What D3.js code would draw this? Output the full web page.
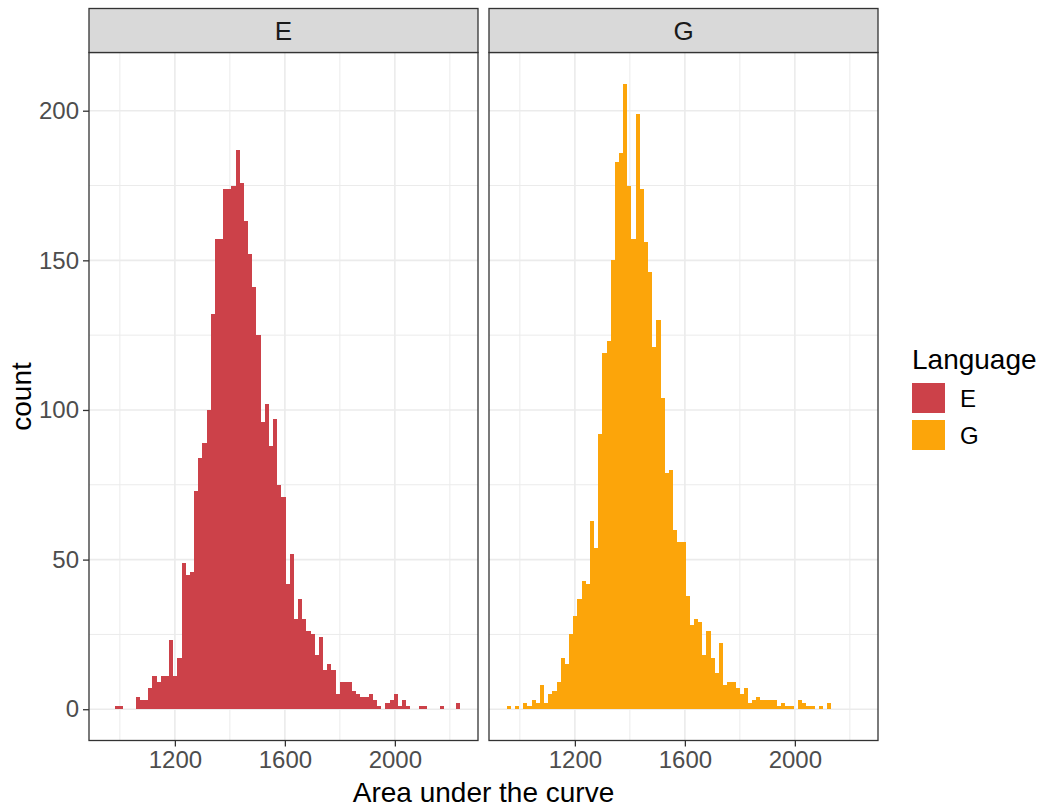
<!DOCTYPE html>
<html><head><meta charset="utf-8">
<script src="https://cdn.jsdelivr.net/npm/d3@7/dist/d3.min.js"></script>
<style>
body{margin:0;background:#fff;}
svg text{font-family:"Liberation Sans", Arial, sans-serif;}
</style></head><body>
<svg id="c" width="1047" height="812"></svg>
<script>
// ---- data ----
const languages = ["E", "G"];
const fillColors = ["#CC4149", "#FCA50A"];
const binStart = 952;
const binWidth = 15.13;
const countsE = [0,0,1,1,0,0,0,4,3,3, 7,11,9,11,11,23,11,17,49,45, 46,73,84,89,100,132,157,157,174,174,
  175,187,176,163,152,141,125,96,102,88, 97,75,71,42,52,30,37,30,26,25, 18,24,13,15,13,5,9,9,9,6,
  5,4,4,5,3,1,0,2,3,5, 1,3,1,0,0,1,1,0,0,0, 1,0,0,0,2];
const countsG = [1,0,1,0,2,1,3,2,8,2, 5,6,9,17,15,25,31,37,43,42, 63,54,92,119,123,150,183,186,209,175,
  157,199,174,156,146,121,130,104,79,80, 60,56,56,38,28,30,29,18,26,17, 12,22,8,9,9,7,5,7,2,3,
  4,3,3,3,3,1,2,1,1,0, 3,2,1,1,0,1,0,2,0,0, 0,0,0,0,0];
const xTicks = [1200, 1600, 2000];
const xMinor = [1000, 1400, 1800, 2200];
const yTicks = [0, 50, 100, 150, 200];
const yMinor = [25, 75, 125, 175];
const xTitle = "Area under the curve";
const yTitle = "count";
const legendTitle = "Language";

// ---- layout ----
const svg = d3.select("#c");
const panelTop = 52.5, panelBottom = 740.5, stripTop = 8.5;
const panelW = 389, panelX = [89, 489];
const nBins = countsE.length;
const binEnd = binStart + nBins * binWidth;
const pad = 0.05 * (binEnd - binStart);
const maxCount = d3.max(countsE.concat(countsG));
const y = d3.scaleLinear().domain([-0.05 * maxCount, 1.05 * maxCount]).range([panelBottom, panelTop]);
const x = d3.scaleLinear().domain([binStart - pad, binEnd + pad]).range([0, panelW]);
const allCounts = [countsE, countsG];

svg.append("rect").attr("width", 1047).attr("height", 812).attr("fill", "#fff");

languages.forEach((lang, p) => {
  const g = svg.append("g").attr("transform", `translate(${panelX[p]},0)`);
  // grid
  g.selectAll(".ym").data(yMinor).join("line")
    .attr("x1", 0).attr("x2", panelW).attr("y1", d => y(d)).attr("y2", d => y(d))
    .attr("stroke", "#EBEBEB").attr("stroke-width", 1);
  g.selectAll(".xm").data(xMinor).join("line")
    .attr("y1", panelTop).attr("y2", panelBottom).attr("x1", d => x(d)).attr("x2", d => x(d))
    .attr("stroke", "#EBEBEB").attr("stroke-width", 1);
  g.selectAll(".yM").data(yTicks).join("line")
    .attr("x1", 0).attr("x2", panelW).attr("y1", d => y(d)).attr("y2", d => y(d))
    .attr("stroke", "#EBEBEB").attr("stroke-width", 1.6);
  g.selectAll(".xM").data(xTicks).join("line")
    .attr("y1", panelTop).attr("y2", panelBottom).attr("x1", d => x(d)).attr("x2", d => x(d))
    .attr("stroke", "#EBEBEB").attr("stroke-width", 1.6);
  // bars
  const bins = allCounts[p].map((c, i) => ({x0: binStart + i * binWidth, x1: binStart + (i + 1) * binWidth, c}));
  g.selectAll(".bar").data(bins.filter(b => b.c > 0)).join("rect")
    .attr("x", d => x(d.x0)).attr("width", d => x(d.x1) - x(d.x0))
    .attr("y", d => y(d.c)).attr("height", d => y(0) - y(d.c))
    .attr("fill", fillColors[p]).attr("shape-rendering", "crispEdges");
  // border
  g.append("rect").attr("x", 0).attr("y", panelTop).attr("width", panelW).attr("height", panelBottom - panelTop)
    .attr("fill", "none").attr("stroke", "#333333").attr("stroke-width", 1.3);
  // strip
  g.append("rect").attr("x", 0).attr("y", stripTop).attr("width", panelW).attr("height", panelTop - stripTop)
    .attr("fill", "#D9D9D9").attr("stroke", "#333333").attr("stroke-width", 1.3);
  g.append("text").attr("x", panelW / 2).attr("y", (stripTop + panelTop) / 2).attr("dy", "0.36em")
    .attr("text-anchor", "middle").attr("font-size", 26).attr("fill", "#1A1A1A").text(lang);
  // x axis
  const xa = g.append("g").attr("transform", `translate(0,${panelBottom})`)
    .call(d3.axisBottom(x).tickValues(xTicks).tickSize(6).tickPadding(4).tickFormat(d3.format("d")));
  xa.select(".domain").remove();
  xa.selectAll(".tick line").attr("stroke", "#333333").attr("stroke-width", 1.3);
  xa.selectAll(".tick text").attr("font-size", 24).attr("fill", "#4D4D4D").attr("font-family", "Liberation Sans, Arial, sans-serif");
  if (p === 0) {
    const ya = g.append("g").call(d3.axisLeft(y).tickValues(yTicks).tickSize(6).tickPadding(4));
    ya.select(".domain").remove();
    ya.selectAll(".tick line").attr("stroke", "#333333").attr("stroke-width", 1.3);
    ya.selectAll(".tick text").attr("font-size", 24).attr("fill", "#4D4D4D").attr("font-family", "Liberation Sans, Arial, sans-serif");
  }
});

// titles
svg.append("text").attr("x", (panelX[0] + panelX[1] + panelW) / 2).attr("y", 802)
  .attr("text-anchor", "middle").attr("font-size", 28).attr("fill", "#000").text(xTitle);
svg.append("text").attr("transform", `translate(31,${(panelTop + panelBottom) / 2}) rotate(-90)`)
  .attr("text-anchor", "middle").attr("font-size", 28).attr("fill", "#000").text(yTitle);

// legend
const lg = svg.append("g").attr("transform", "translate(912,0)");
lg.append("text").attr("x", 0).attr("y", 369).attr("font-size", 28).attr("fill", "#000").text(legendTitle);
languages.forEach((lang, i) => {
  lg.append("rect").attr("x", 0).attr("y", 383 + i * 37).attr("width", 33).attr("height", 30).attr("fill", fillColors[i]);
  lg.append("text").attr("x", 48).attr("y", 398 + i * 37).attr("dy", "0.36em").attr("font-size", 24).attr("fill", "#000").text(lang);
});
</script>
</body></html>
